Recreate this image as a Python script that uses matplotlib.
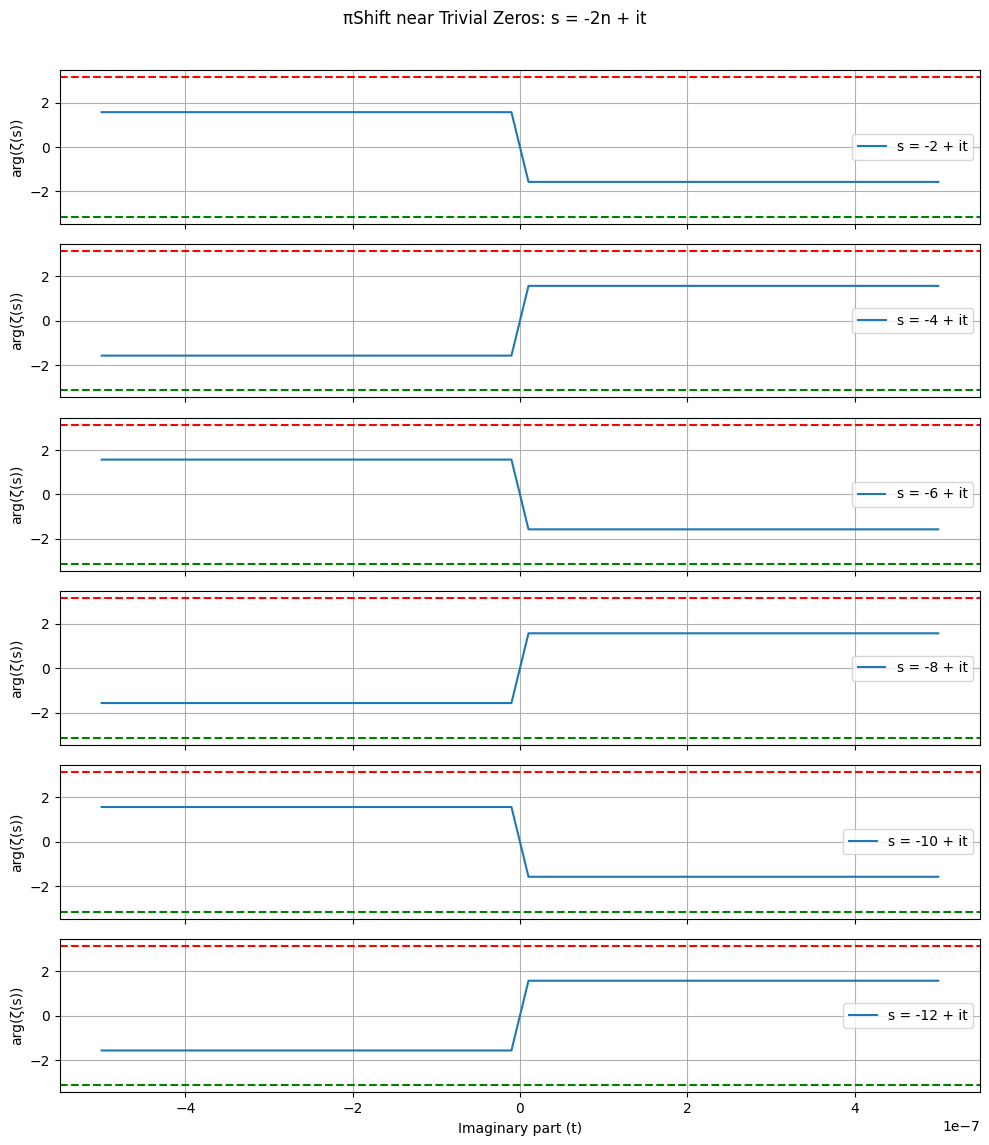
import numpy as np
import matplotlib
matplotlib.use("Agg")
import matplotlib.pyplot as plt

# real part of s for each panel
n_values = [2, 4, 6, 8, 10, 12]
# imaginary part samples (corners of the step)
t_values = [-5e-7, -1.02e-8, 1.02e-8, 5e-7]
# arg(zeta) at those samples, panel by panel
arg_down = [1.5708, 1.5708, -1.5708, -1.5708]
arg_up = [-1.5708, -1.5708, 1.5708, 1.5708]
arg_series = [arg_down, arg_up, arg_down, arg_up, arg_down, arg_up]

fig, axes = plt.subplots(len(n_values), 1, figsize=(9.89, 11.45), dpi=100, sharex=True)

for ax, n, arg in zip(axes, n_values, arg_series):
    ax.plot(t_values, arg, label=f"s = -{n} + it")
    ax.axhline(np.pi, color="red", linestyle="--")
    ax.axhline(-np.pi, color="green", linestyle="--")
    ax.set_ylabel("arg(ζ(s))")
    ax.legend(loc="center right")
    ax.grid(True)

axes[-1].set_xlabel("Imaginary part (t)")
fig.suptitle("πShift near Trivial Zeros: s = -2n + it", y=0.991)
fig.subplots_adjust(left=0.0605, right=0.991, top=0.9386, bottom=0.046, hspace=0.132)
fig.savefig("out.png")
